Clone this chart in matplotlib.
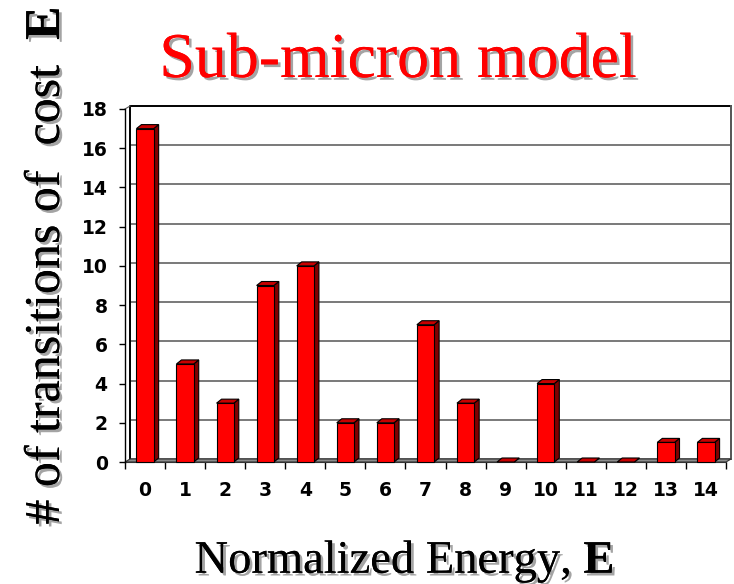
import matplotlib
matplotlib.use("Agg")
import matplotlib.pyplot as plt
from matplotlib.patches import Polygon, Rectangle
import matplotlib.patheffects as pe

categories = list(range(15))
counts = [17, 5, 3, 9, 10, 2, 2, 7, 3, 0, 4, 0, 0, 1, 1]
yticks = list(range(0, 19, 2))
title = "Sub-micron model"
xlabel = r"Normalized Energy, $\mathbf{E}$"
ylabel = r"# of transitions of  cost  $\mathbf{E}$"

plt.rcParams['mathtext.fontset'] = 'custom'
plt.rcParams['mathtext.rm'] = 'Liberation Serif'
plt.rcParams['mathtext.bf'] = 'Liberation Serif:bold'

W, H = 734, 584
fig = plt.figure(figsize=(W / 100, H / 100), dpi=100)
ax = fig.add_axes([125 / W, (H - 462) / H, 601 / W, 353 / H])
xmin, xmax = -0.5, 14.5
ymin, ymax = 0, 18
ax.set_xlim(xmin, xmax)
ax.set_ylim(ymin, ymax)

# depth offsets in data units (derived from axis scale)
px_x = (xmax - xmin) / 601.0
px_y = (ymax - ymin) / 353.0
wdx, wdy = 5 * px_x, 3 * px_y    # wall depth
bdx, bdy = 5 * px_x, 4 * px_y    # bar depth

for s in ['top', 'right', 'bottom']:
    ax.spines[s].set_visible(False)
ax.spines['left'].set_linewidth(1.0)
ax.patch.set_visible(False)

# back wall gridlines
for v in yticks[:-1]:
    ax.plot([xmin + wdx, xmax + wdx], [v + wdy, v + wdy], color='#6e6e6e',
            lw=1.3, clip_on=False, zorder=1)
# back wall frame
ax.plot([xmin + wdx, xmin + wdx, xmax + wdx], [wdy, ymax + wdy, ymax + wdy],
        color='black', lw=1.4, clip_on=False, zorder=1)
ax.plot([xmax + wdx, xmax + wdx], [wdy, ymax + wdy], color='#555555',
        lw=1.4, clip_on=False, zorder=1)
# side wall edges
ax.plot([xmin, xmin + wdx], [ymax, ymax + wdy], color='#555555', lw=0.8,
        clip_on=False, zorder=1)
# floor
floor = Polygon([(xmin, 0), (xmax, 0), (xmax + wdx, wdy), (xmin + wdx, wdy)],
                closed=True, facecolor='#8c8c8c', edgecolor='#333333', lw=0.8,
                clip_on=False, zorder=2)
ax.add_patch(floor)

# 3D bars
w = 0.43
for x, h in zip(categories, counts):
    x0, x1 = x - w / 2, x + w / 2
    side = Polygon([(x1, 0), (x1 + bdx, bdy), (x1 + bdx, h + bdy), (x1, h)],
                   closed=True, facecolor='#800000', edgecolor='black', lw=0.8,
                   clip_on=False, zorder=3)
    top = Polygon([(x0, h), (x1, h), (x1 + bdx, h + bdy), (x0 + bdx, h + bdy)],
                  closed=True, facecolor='#c80000', edgecolor='black', lw=0.8,
                  clip_on=False, zorder=3)
    ax.add_patch(side)
    ax.add_patch(top)
    if h > 0:
        front = Rectangle((x0, 0), w, h, facecolor='#ff0000', edgecolor='black',
                          lw=0.8, clip_on=False, zorder=4)
        ax.add_patch(front)

# bottom front edge
ax.plot([xmin, xmax], [0, 0], color='#333333', lw=0.8, clip_on=False, zorder=2)

# ticks
ax.set_yticks(yticks)
ax.set_yticklabels([str(v) for v in yticks], fontfamily='DejaVu Sans',
                   fontweight='bold', fontsize=13.5)
ax.tick_params(axis='y', direction='out', length=4.5, width=1.0, pad=8)
ax.set_xticks(categories)
ax.set_xticklabels([str(c) for c in categories], fontfamily='DejaVu Sans',
                   fontweight='bold', fontsize=13.5)
ax.set_xticks([c - 0.5 for c in categories] + [categories[-1] + 0.5], minor=True)
ax.tick_params(axis='x', which='major', length=0, pad=14)
ax.tick_params(axis='x', which='minor', direction='out', length=5, width=1.0)

shadow = [pe.withSimplePatchShadow(offset=(2, -2), shadow_rgbFace='#9a9a9a', alpha=0.9),
          pe.Normal()]

fig.text(398 / W, 1 - 77 / H, title, ha='center', va='baseline',
         fontfamily='Liberation Serif', fontsize=46, color='#ff0000',
         path_effects=shadow)
fig.text(404 / W, 1 - 573 / H, xlabel, ha='center', va='baseline',
         fontfamily='Liberation Serif', fontsize=33.5, color='black',
         path_effects=shadow)
fig.text(47 / W, 1 - 266 / H, ylabel, ha='center', va='center', rotation=90,
         fontfamily='Liberation Serif', fontsize=36, color='black',
         path_effects=shadow)

fig.savefig('out.png', dpi=100)
